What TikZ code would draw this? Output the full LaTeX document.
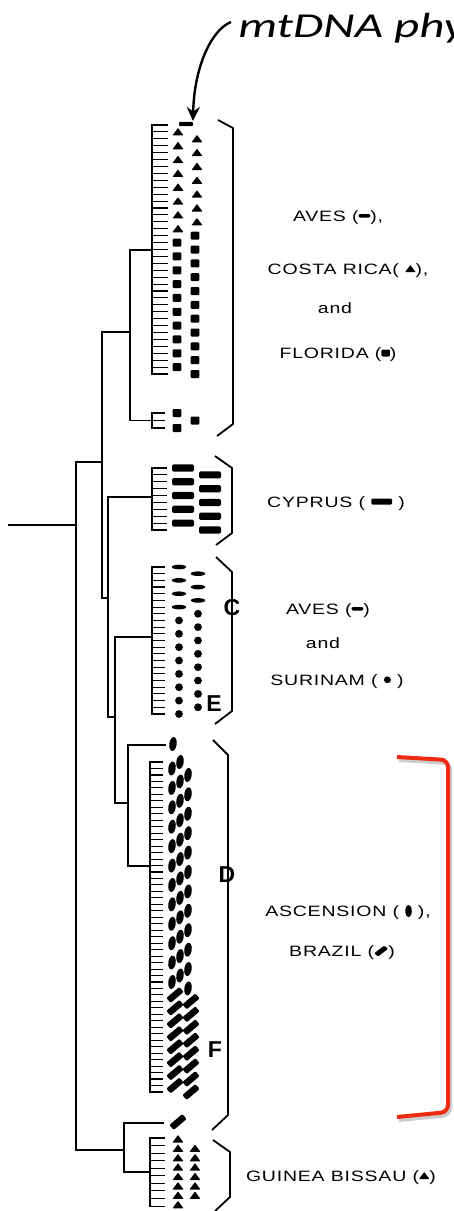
\documentclass[tikz,border=0pt]{standalone}
\usepackage{fontspec}
\setmainfont{Liberation Sans}
\newfontfamily\labfont{Liberation Sans}[LetterSpace=4]
\newfontfamily\titlefont{Carlito}
\usetikzlibrary{arrows.meta}

\definecolor{redbrace}{RGB}{238,42,18}

% key symbols inside the labels
\newcommand\kdash{\tikz[baseline=0pt]\fill[rounded corners=1pt] (0pt,3.5pt) rectangle (9pt,7pt);}
\newcommand\ktri{\tikz[baseline=0pt]\fill[rounded corners=0.5pt] (0pt,2pt) -- (8pt,2pt) -- (4pt,9pt) -- cycle;}
\newcommand\ksq{\tikz[baseline=0pt]\fill[rounded corners=1pt] (0pt,1.5pt) rectangle (6.5pt,8.5pt);}
\newcommand\kbar{\tikz[baseline=0pt]\fill[rounded corners=1pt] (0pt,2.5pt) rectangle (16pt,8.5pt);}
\newcommand\kdot{\tikz[baseline=0pt]\fill (2.7pt,5.2pt) ellipse (2.7pt and 3.4pt);}
\newcommand\kell{\tikz[baseline=0pt]\fill (2.5pt,5pt) ellipse (2.5pt and 6.2pt);}
\newcommand\kslash{\tikz[baseline=0pt]\fill[rotate around={45:(4pt,5pt)},rounded corners=1pt] (-1.5pt,2.8pt) rectangle (9.5pt,7.2pt);}

\begin{document}
\begin{tikzpicture}[x=1pt,y=-1pt,
  branch/.style={line width=1.7pt,line cap=rect},
  twig/.style={line width=1.1pt},
  brace/.style={line width=1.8pt,line join=round},
  lab/.style={font=\labfont\fontsize{15}{18}\selectfont,xscale=1.3,anchor=base,inner sep=0pt},
  tag/.style={font=\fontsize{23}{26}\selectfont\bfseries,inner sep=0pt},
  avdash/.pic={\fill[rounded corners=1pt] (-7,-2.2) rectangle (7,2.2);},
  tri/.pic={\fill[rounded corners=0.6pt] (-5.5,3.5) -- (5.5,3.5) -- (0,-4) -- cycle;},
  sq/.pic={\fill[rounded corners=1pt] (-4.3,-4) rectangle (4.3,4);},
  cybar/.pic={\fill[rounded corners=1.5pt] (-11,-3.6) rectangle (11,3.6);},
  lens/.pic={\fill (0,0) ellipse (7.2 and 2.3);},
  sdot/.pic={\fill (0,0) circle (3.9);},
  asell/.pic={\fill[rotate=-8] (0,0) ellipse (3.7 and 7);},
  brslash/.pic={\fill[rotate=40,rounded corners=1.2pt] (-8.5,-3.3) rectangle (8.5,3.3);}]

\useasboundingbox (0,0) rectangle (453,1211);

% annotation
\node[font=\titlefont\itshape\fontsize{35}{38}\selectfont,xscale=1.4,anchor=base west,inner sep=0pt] (title) at (238,37) {mtDNA phy};
\coordinate (arrS) at (231,22);
\coordinate (arrE) at (193,121);
\draw[line width=2.4pt,-{Stealth[length=14pt,width=13pt]}] (arrS) .. controls (211,30) and (194,68) .. (arrE);

% red bracket with its shadow
\draw[line width=4pt,black!20,rounded corners=7pt] (399,760) -- (450,763) -- (450,1115) -- (399,1120);
\draw[line width=4pt,redbrace,rounded corners=7pt] (397,757) -- (448,760) -- (448,1112) -- (397,1117);

% tree
\coordinate (stem) at (9,525);
\coordinate (root) at (76,525);
\coordinate (nA) at (102,462);
\coordinate (nFL) at (130,332);
\coordinate (nB) at (108,598);
\coordinate (nC) at (115,717);
\coordinate (nD) at (128,803);
\coordinate (nG) at (124,1150);
\coordinate (flA) at (152,250);
\coordinate (flB) at (152,420.5);
\coordinate (cyp) at (152,497);
\coordinate (sur) at (152,637);
\coordinate (ascA) at (165,745);
\coordinate (ascB) at (150,866);
\coordinate (braA) at (163,1123);
\coordinate (gui) at (150,1172);

\draw[branch] (stem) -- (root);
\draw[branch] (root) |- (nA);
\draw[branch] (root) |- (nG);
\draw[branch] (nA) |- (nFL);
\draw[branch] (nA) |- (nB);
\draw[branch] (nFL) |- (flA);
\draw[branch] (nFL) |- (flB);
\draw[branch] (nB) |- (cyp);
\draw[branch] (nB) |- (nC);
\draw[branch] (nC) |- (sur);
\draw[branch] (nC) |- (nD);
\draw[branch] (nD) |- (ascA);
\draw[branch] (nD) |- (ascB);
\draw[branch] (nG) |- (braA);
\draw[branch] (nG) |- (gui);

% Aves, Costa Rica and Florida
\draw[branch] (152,125) -- (152,374);
\foreach \i in {0,...,36} \draw[twig] (152,{125+6.917*\i}) -- ++(16,0);
\pic at (186,124) {avdash};
\foreach \i in {1,3,...,15} \pic at (178,{125+6.917*\i}) {tri};
\foreach \i in {2,4,...,14} \pic at (197,{125+6.917*\i}) {tri};
\foreach \i in {17,19,...,35} \pic at (177,{125+6.917*\i}) {sq};
\foreach \i in {16,18,...,36} \pic at (195,{125+6.917*\i}) {sq};

\draw[branch] (152,413) -- (152,428);
\foreach \y in {413,420.5,428} \draw[twig] (152,\y) -- ++(13,0);
\pic at (177,413) {sq};
\pic at (195,420.5) {sq};
\pic at (177,428) {sq};

% Cyprus
\draw[branch] (152,468) -- (152,530);
\foreach \i in {0,...,9} \draw[twig] (152,{468+6.89*\i}) -- ++(15,0);
\foreach \i in {0,2,...,8} \pic at (183,{468+6.89*\i}) {cybar};
\foreach \i in {1,3,...,9} \pic at (210,{468+6.89*\i}) {cybar};

% Aves and Surinam
\draw[branch] (152,567) -- (152,714);
\foreach \i in {0,...,22} \draw[twig] (152,{567+6.68*\i}) -- ++(13,0);
\foreach \i in {0,2,4,6} \pic at (179,{567+6.68*\i}) {lens};
\foreach \i in {1,3,5} \pic at (198,{567+6.68*\i}) {lens};
\foreach \i in {8,10,...,22} \pic at (179,{567+6.68*\i}) {sdot};
\foreach \i in {7,9,...,21} \pic at (198,{567+6.68*\i}) {sdot};

% Ascension and Brazil
\pic at (173,744) {asell};
\draw[branch] (150,762) -- (150,1092);
\foreach \i in {0,...,51} \draw[twig] (150,{762+6.47*\i}) -- ++(13,0);
\foreach \i in {0,3,...,33} \pic at (180,{762+6.47*\i}) {asell};
\foreach \i in {1,4,...,34} \pic at (172,{762+6.47*\i}) {asell};
\foreach \i in {2,5,...,35} \pic at (188,{762+6.47*\i}) {asell};
\foreach \i in {36,38,...,50} \pic at (175,{762+6.47*\i}) {brslash};
\foreach \i in {37,39,...,51} \pic at (191,{762+6.47*\i}) {brslash};

% Guinea Bissau
\pic at (178,1122) {brslash};
\draw[branch] (150,1138) -- (150,1206);
\foreach \i in {0,...,9} \draw[twig] (150,{1138+7.56*\i}) -- ++(15,0);
\foreach \j in {0,...,7} \pic at (178,{1139+9.4*\j}) {tri};
\foreach \j in {1,...,6} \pic at (195,{1139+9.4*\j}) {tri};

% brackets
\draw[brace] (218,120) -- (233,128) -- (233,424) -- (217,436);
\draw[brace] (215,456) -- (232,468) -- (232,533) -- (216,545);
\draw[brace] (216,557) -- (232,572) -- (232,711) -- (215,724);
\draw[brace] (213,740) -- (228,755) -- (228,1115) -- (212,1130);
\draw[brace] (213,1140) -- (230,1152) -- (230,1197) -- (215,1211);

% labels
\node[lab] (lavesA) at (338,221) {AVES (\kdash),};
\node[lab] (lcosta) at (348,274) {COSTA RICA( \ktri),};
\node[lab] (landA) at (335,313) {and};
\node[lab] (lflor) at (338,358) {FLORIDA (\ksq)};
\node[lab] (lcyp) at (336,507) {CYPRUS ( \kbar\ )};
\node[lab] (lavesB) at (328,614) {AVES (\kdash)};
\node[lab] (landB) at (323,648) {and};
\node[lab] (lsur) at (337,685) {SURINAM ( \kdot\ )};
\node[lab] (lasc) at (348,916) {ASCENSION ( \kell\ ),};
\node[lab] (lbra) at (342,956) {BRAZIL (\kslash)};
\node[lab] (lgui) at (341,1181) {GUINEA BISSAU (\ktri)};

% letters
\node[tag] (tagC) at (232,608) {C};
\node[tag] (tagE) at (214,704) {E};
\node[tag] (tagD) at (227,875) {D};
\node[tag] (tagF) at (215,1050) {F};

\end{tikzpicture}
\end{document}
